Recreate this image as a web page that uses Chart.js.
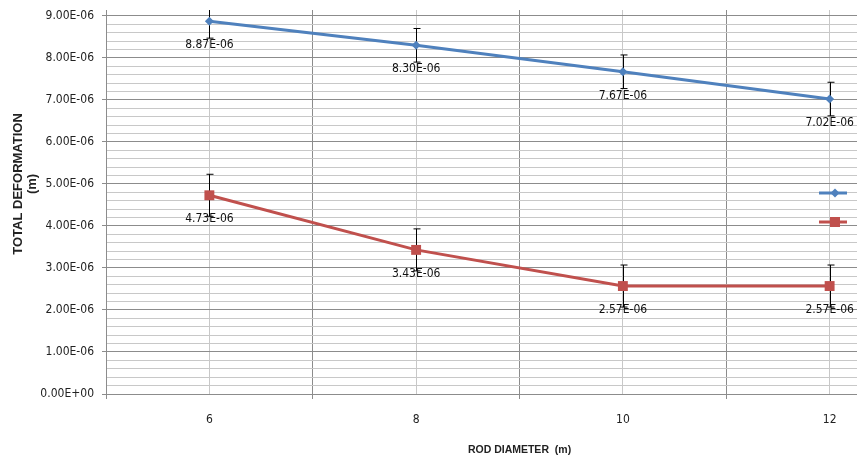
<!DOCTYPE html>
<html>
<head>
<meta charset="utf-8">
<script src="https://cdn.jsdelivr.net/npm/chart.js@4.4.0/dist/chart.umd.min.js"></script>
<style>
html, body { margin: 0; padding: 0; background: #fff; overflow: hidden; }
#wrap { width: 857px; height: 459px; overflow: hidden; }
</style>
</head>
<body>
<div id="wrap"><canvas id="myChart" width="940" height="459"></canvas></div>
<script>
const diameters = [6, 8, 10, 12];
const deformation1 = [8.87e-6, 8.30e-6, 7.67e-6, 7.02e-6];
const deformation2 = [4.73e-6, 3.43e-6, 2.57e-6, 2.57e-6];
const error1 = 0.4e-6;
const error2 = 0.5e-6;
const xTicks = [5, 6, 7, 8, 9, 10, 11, 12, 13];
const yMajor = [0, 1e-6, 2e-6, 3e-6, 4e-6, 5e-6, 6e-6, 7e-6, 8e-6, 9e-6];
const yMinorStep = 0.2e-6;

const blue = '#4f81bd';
const red = '#c0504d';
const textFont = "'Liberation Sans Narrow', 'DejaVu Sans Condensed', 'Liberation Sans', sans-serif";
const titleFont = "'Liberation Sans', Arial, sans-serif";

// all y grid values, 5 minor steps per major
let yTicks = [];
for (let k = 0; k <= (yMajor.length - 1) * 5; k++) yTicks.push(k * yMinorStep);

function isMajor(v) {
   return Math.round(v / yMinorStep) % 5 === 0;
}

function fmt(v) {
   let s = v.toExponential(2).toUpperCase();
   return s.replace(/E([+-])(\d)$/, 'E$10$2');
}

function noPad(s) {
   s.paddingTop = 0; s.paddingBottom = 0; s.paddingLeft = 0; s.paddingRight = 0;
}

const extras = {
   id: 'extras',
   beforeDatasetsDraw(chart) {
      const {ctx, chartArea} = chart;
      const xs = chart.scales.x, ys = chart.scales.y;
      ctx.save();
      ctx.beginPath();
      ctx.rect(chartArea.left, chartArea.top, chartArea.right - chartArea.left, chartArea.bottom - chartArea.top);
      ctx.clip();
      ctx.strokeStyle = '#000';
      ctx.lineWidth = 1;
      [[deformation1, error1], [deformation2, error2]].forEach(([vals, err]) => {
         vals.forEach((v, i) => {
            const x = Math.round(xs.getPixelForValue(diameters[i])) + 0.5;
            const y1 = ys.getPixelForValue(v + err);
            const y2 = ys.getPixelForValue(v - err);
            ctx.beginPath();
            ctx.moveTo(x, y1); ctx.lineTo(x, y2);
            ctx.moveTo(x - 3, y1); ctx.lineTo(x + 4, y1);
            ctx.moveTo(x - 3, y2); ctx.lineTo(x + 4, y2);
            ctx.stroke();
         });
      });
      ctx.restore();
   },
   afterDatasetsDraw(chart) {
      const {ctx, chartArea} = chart;
      const xs = chart.scales.x, ys = chart.scales.y;
      ctx.save();
      ctx.font = '12px ' + textFont;
      ctx.fillStyle = '#111';
      ctx.textAlign = 'center';
      ctx.textBaseline = 'middle';
      [deformation1, deformation2].forEach((vals) => {
         vals.forEach((v, i) => {
            ctx.fillText(fmt(v), xs.getPixelForValue(diameters[i]), ys.getPixelForValue(v) + 24);
         });
      });
      // legend keys (text is cut off by the frame)
      const lx = chartArea.left + 729;
      const ly = chartArea.top + 183;
      ctx.lineWidth = 3;
      ctx.strokeStyle = blue;
      ctx.beginPath(); ctx.moveTo(lx - 16, ly); ctx.lineTo(lx + 12, ly); ctx.stroke();
      ctx.fillStyle = blue;
      ctx.beginPath();
      ctx.moveTo(lx, ly - 4.5); ctx.lineTo(lx + 4.5, ly); ctx.lineTo(lx, ly + 4.5); ctx.lineTo(lx - 4.5, ly);
      ctx.closePath(); ctx.fill();
      ctx.strokeStyle = red;
      ctx.beginPath(); ctx.moveTo(lx - 16, ly + 29); ctx.lineTo(lx + 12, ly + 29); ctx.stroke();
      ctx.fillStyle = red;
      ctx.fillRect(lx - 5, ly + 24, 10, 10);
      ctx.restore();
   }
};

const config = {
   type: 'line',
   data: {
      datasets: [{
         label: 'Series1',
         data: diameters.map((d, i) => ({x: d, y: deformation1[i]})),
         borderColor: blue,
         backgroundColor: blue,
         borderWidth: 3,
         pointStyle: 'rectRot',
         pointRadius: 4.5,
         pointBorderWidth: 0,
         tension: 0
      }, {
         label: 'Series2',
         data: diameters.map((d, i) => ({x: d, y: deformation2[i]})),
         borderColor: red,
         backgroundColor: red,
         borderWidth: 3,
         pointStyle: 'rect',
         pointRadius: 7,
         pointBorderWidth: 0,
         tension: 0
      }]
   },
   options: {
      responsive: false,
      animation: false,
      layout: {padding: {top: 10, right: 5, left: 0, bottom: 0}},
      plugins: {
         legend: {display: false},
         tooltip: {enabled: false}
      },
      scales: {
         x: {
            type: 'linear',
            min: 5,
            max: 13,
            afterBuildTicks: (s) => { s.ticks = xTicks.map(v => ({value: v})); },
            afterFit: (s) => { s.height = 65; noPad(s); },
            grid: {
               color: (c) => c.tick && c.tick.value % 2 ? '#8c8c8c' : '#c8c8c8',
               tickColor: (c) => c.tick && c.tick.value % 2 ? '#8c8c8c' : 'rgba(0,0,0,0)',
               tickLength: 5
            },
            border: {color: '#8c8c8c', width: 1},
            ticks: {
               autoSkip: false,
               maxRotation: 0,
               padding: 14,
               color: '#222',
               font: {family: textFont, size: 12},
               callback: (v) => v % 2 ? '' : String(v)
            },
            title: {
               display: true,
               text: 'ROD DIAMETER  (m)',
               color: '#222',
               font: {family: titleFont, size: 10.5, weight: 'bold', lineHeight: 1.36},
               padding: {top: 0, bottom: 1.5}
            }
         },
         y: {
            min: 0,
            max: 9.14e-6,
            afterBuildTicks: (s) => { s.ticks = yTicks.map(v => ({value: v})); },
            afterFit: (s) => { s.width = 106; noPad(s); },
            grid: {
               color: (c) => c.tick && isMajor(c.tick.value) ? '#8c8c8c' : '#c8c8c8',
               tickColor: (c) => c.tick && isMajor(c.tick.value) ? '#8c8c8c' : 'rgba(0,0,0,0)',
               tickLength: 4
            },
            border: {color: '#8c8c8c', width: 1},
            ticks: {
               autoSkip: false,
               padding: 8,
               color: '#222',
               font: {family: textFont, size: 12},
               callback: (v) => isMajor(v) ? fmt(v) : ''
            },
            title: {
               display: true,
               text: ['          TOTAL DEFORMATION', '          (m)'],
               color: '#222',
               font: {family: titleFont, size: 13, weight: 'bold', lineHeight: 1.12},
               padding: {top: 11, bottom: 0}
            }
         }
      }
   },
   plugins: [extras]
};

const myChart = new Chart(document.getElementById('myChart'), config);
</script>
</body>
</html>
